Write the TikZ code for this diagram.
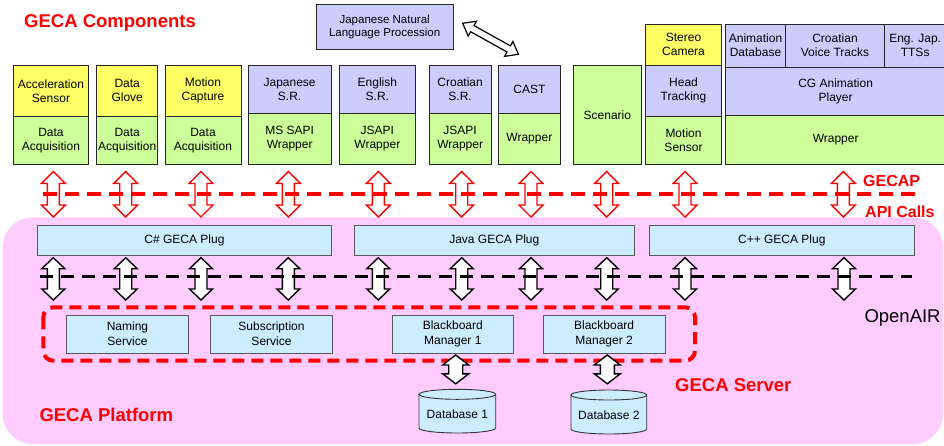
\documentclass[tikz,border=0pt]{standalone}
\usepackage{fontspec}
\setmainfont{Liberation Sans}
\definecolor{cyel}{RGB}{255,255,102}
\definecolor{cgrn}{RGB}{204,255,153}
\definecolor{cpur}{RGB}{204,204,255}
\definecolor{cblu}{RGB}{204,236,255}
\definecolor{cpink}{RGB}{255,204,255}
\definecolor{cred}{RGB}{255,0,0}
\tikzset{
  cellbox/.style={draw=black!85, line width=1pt, inner sep=0pt, outer sep=0pt, align=center,
    font=\fontsize{12}{14}\selectfont},
  plugbox/.style={draw=black!65, line width=0.8pt, fill=cblu, inner sep=0pt, outer sep=0pt, align=center,
    font=\fontsize{12}{15}\selectfont},
  redarr/.style={draw=cred, line width=1.4pt, fill=white, line join=miter},
  blkarr/.style={draw=black, line width=1.4pt, fill=white, line join=miter},
  reddash/.style={draw=cred, line width=4pt, dash pattern=on 14pt off 8pt},
  blkdash/.style={draw=black, line width=3.5pt, dash pattern=on 13pt off 8pt},
  bigred/.style={text=cred, font=\fontsize{18.5}{20}\selectfont\bfseries, inner sep=0pt, anchor=base west},
  midred/.style={text=cred, font=\fontsize{16}{18}\selectfont\bfseries, inner sep=0pt, anchor=base west},
  dbshape/.style={draw=black!80, line width=0.9pt, fill=cblu}
}
% #1 name, #2 style, #3 x1, #4 y1, #5 x2, #6 y2, #7 text
\newcommand\cell[7]{\node[#2, minimum width={#5-#3}, minimum height={#6-#4}] (#1) at ({(#3+#5)/2},{(#4+#6)/2}) {#7};}
% #1 style, #2 x, #3 y, #4 angle, #5 length, #6 head half width, #7 shaft half width, #8 head length
\newcommand\dblarr[8]{\begin{scope}[shift={(#2,#3)},rotate=#4]
\draw[#1] (0,0) -- (#8,#6) -- (#8,#7) -- ({#5-#8},#7) -- ({#5-#8},#6) -- (#5,0) -- ({#5-#8},-#6) -- ({#5-#8},-#7) -- (#8,-#7) -- (#8,-#6) -- cycle;
\end{scope}}
\begin{document}
\begin{tikzpicture}[x=1pt,y=-1pt]
\useasboundingbox (0,0) rectangle (944,445);
% platform background
\fill[cpink, rounded corners=30pt] (2.7,217.3) rectangle (943,444);

\node[bigred] (title) at (24,27.5) {GECA Components};

% top components
\cell{accs}{cellbox,fill=cyel}{13.3}{65.7}{88.7}{116}{Acceleration\\Sensor}
\cell{acca}{cellbox,fill=cgrn}{13.3}{116}{88.7}{164.5}{Data\\Acquisition}
\cell{glov}{cellbox,fill=cyel}{96.7}{65.7}{157.7}{116}{Data\\Glove}
\cell{glova}{cellbox,fill=cgrn}{96.7}{116}{157.7}{164.5}{Data\\Acquisition}
\cell{moc}{cellbox,fill=cyel}{165}{65.7}{241}{116}{Motion\\Capture}
\cell{moca}{cellbox,fill=cgrn}{165}{116}{241}{164.5}{Data\\Acquisition}
\cell{jsr}{cellbox,fill=cpur}{248.3}{65.7}{331}{113}{Japanese\\S.R.}
\cell{jsrw}{cellbox,fill=cgrn}{248.3}{113}{331}{164.5}{MS SAPI\\Wrapper}
\cell{esr}{cellbox,fill=cpur}{339}{65.7}{415.7}{113}{English\\S.R.}
\cell{esrw}{cellbox,fill=cgrn}{339}{113}{415.7}{164.5}{JSAPI\\Wrapper}
\cell{csr}{cellbox,fill=cpur}{429.3}{65.7}{491}{113}{Croatian\\S.R.}
\cell{csrw}{cellbox,fill=cgrn}{429.3}{113}{491}{164.5}{JSAPI\\Wrapper}
\cell{cast}{cellbox,fill=cpur}{498}{65.7}{560.7}{113}{CAST}
\cell{castw}{cellbox,fill=cgrn}{498}{113}{560.7}{164.5}{Wrapper}
\cell{scen}{cellbox,fill=cgrn}{573.7}{65.7}{641}{164.5}{Scenario}
\cell{ster}{cellbox,fill=cyel}{645.3}{24}{721.7}{65.7}{Stereo\\Camera}
\cell{head}{cellbox,fill=cpur}{645.3}{65.7}{721.7}{116}{Head\\Tracking}
\cell{msen}{cellbox,fill=cgrn}{645.3}{116}{721.7}{164.5}{Motion\\Sensor}
\cell{adb}{cellbox,fill=cpur}{725.3}{24}{785.7}{67.3}{Animation\\Database}
\cell{cvt}{cellbox,fill=cpur}{785.7}{24}{884.3}{67.3}{Croatian\\Voice Tracks}
\cell{tts}{cellbox,fill=cpur}{884.3}{24}{946}{67.3}{Eng. Jap.\\TTSs}
\cell{cgp}{cellbox,fill=cpur}{725.3}{67.3}{946}{115}{CG Animation\\Player}
\cell{cgw}{cellbox,fill=cgrn}{725.3}{115}{946}{164.5}{Wrapper}
\cell{nlp}{cellbox,fill=cpur,font=\fontsize{11.5}{13.5}\selectfont}{316}{4.7}{453.3}{49}{Japanese Natural\\Language Procession}

% NLP <-> CAST arrow
\dblarr{blkarr,line width=1.2pt}{462.7}{23.3}{-29.1}{63.7}{8.5}{3.5}{11}

% red API arrows
\foreach \xx in {53.3,125.7,201,288.3,378.3,461.7,531,606.7,685,843.3}{
  \dblarr{redarr}{\xx}{171.5}{-90}{45.5}{12}{6}{12}
}
\draw[reddash] (43,194) -- (915,194);
\node[midred] (gecap) at (863,186.7) {GECAP};
\node[midred] (api) at (865,217.3) {API Calls};

% plugs
\cell{csh}{plugbox}{37.3}{225}{331.7}{255}{C\# GECA Plug}
\cell{jav}{plugbox}{354.3}{225}{634.3}{255}{Java GECA Plug}
\cell{cpp}{plugbox}{649.3}{225}{914.3}{255}{C++ GECA Plug}

% black OpenAIR arrows
\foreach \xx in {53.3,125.7,201,288.3,378.3,461.7,531,606.7,685,844}{
  \dblarr{blkarr}{\xx}{257.7}{-90}{42.3}{11.5}{6}{11}
}
\draw[blkdash] (40,276.7) -- (911.7,276.7);

% server
\draw[cred, line width=4pt, dash pattern=on 12pt off 7pt, rounded corners=10pt] (43.3,307.3) rectangle (695,360.7);
\cell{nam}{plugbox}{66.7}{315}{188.3}{353.3}{Naming\\Service}
\cell{sub}{plugbox}{210.7}{315}{332.3}{353.3}{Subscription\\Service}
\cell{bb1}{plugbox}{392.3}{315}{513.3}{353.3}{Blackboard\\Manager 1}
\cell{bb2}{plugbox}{543.3}{315}{665}{353.3}{Blackboard\\Manager 2}

\dblarr{blkarr}{455.7}{355}{-90}{28.8}{13}{7}{10}
\dblarr{blkarr}{607.3}{355}{-90}{28.8}{13}{7}{10}

% databases
\filldraw[dbshape] (419,394.3) -- (419,428) arc[start angle=180,end angle=360,x radius=38.35pt,y radius=5pt] -- (495.7,394.3) arc[start angle=0,end angle=180,x radius=38.35pt,y radius=5pt] -- cycle;
\draw[dbshape, fill=none] (419,394.3) arc[start angle=180,end angle=360,x radius=38.35pt,y radius=5pt];
\node[font=\fontsize{12}{14}\selectfont] (db1) at (457.35,414) {Database 1};
\filldraw[dbshape] (571,395) -- (571,429) arc[start angle=180,end angle=360,x radius=37.85pt,y radius=5pt] -- (646.7,395) arc[start angle=0,end angle=180,x radius=37.85pt,y radius=5pt] -- cycle;
\draw[dbshape, fill=none] (571,395) arc[start angle=180,end angle=360,x radius=37.85pt,y radius=5pt];
\node[font=\fontsize{12}{14}\selectfont] (db2) at (608.85,415) {Database 2};

\node[bigred] (server) at (675,391.7) {GECA Server};
\node[bigred] (platform) at (39.3,421.7) {GECA Platform};
\node[font=\fontsize{18.5}{20}\selectfont, inner sep=0pt, anchor=base west] (openair) at (864.3,322.7) {OpenAIR};
\end{tikzpicture}
\end{document}
